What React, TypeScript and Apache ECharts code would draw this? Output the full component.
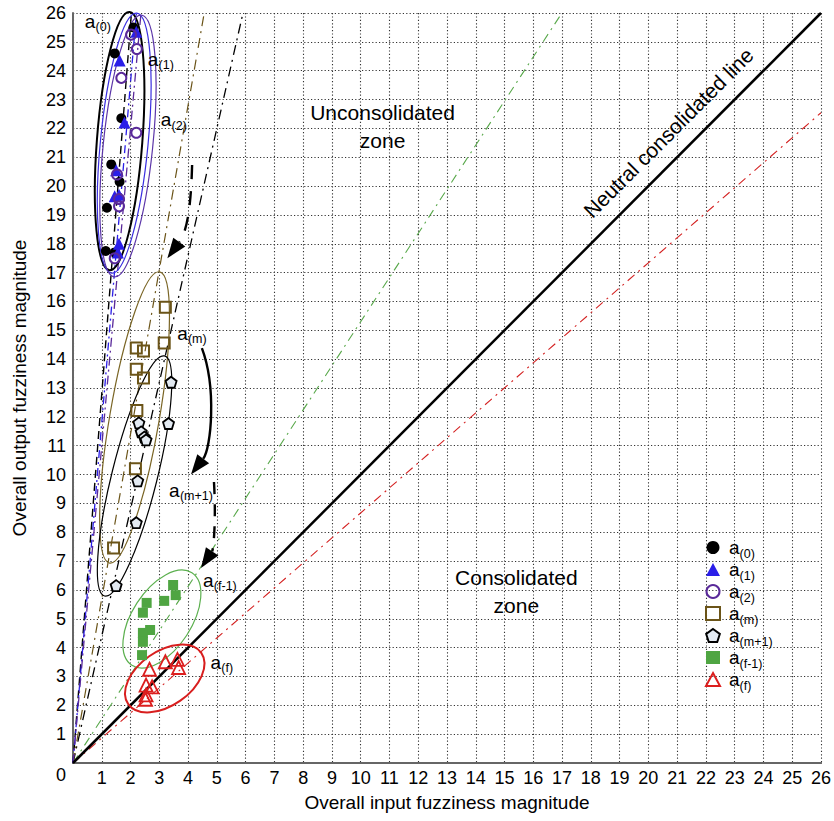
import React, { useEffect, useRef } from "react";
import * as echarts from "echarts";

const FONT = "'Liberation Sans', Arial, sans-serif";

// ---- data ----
const seriesNames = ["a(0)", "a(1)", "a(2)", "a(m)", "a(m+1)", "a(f-1)", "a(f)"];

const a0 = [[2.1, 25.5], [1.45, 24.6], [1.68, 22.35], [1.33, 20.75], [1.62, 20.15], [1.18, 19.25], [1.14, 17.75], [1.45, 17.7]];
const a1 = [[2.2, 25.35], [1.62, 24.35], [1.79, 22.2], [1.5, 20.55], [1.45, 19.65], [1.6, 19.7], [1.6, 18.0], [1.56, 17.7]];
const a2 = [[2.02, 25.25], [2.22, 24.75], [1.68, 23.75], [2.2, 21.85], [1.53, 20.4], [1.6, 19.55], [1.6, 19.3], [1.45, 17.5]];
const am = [[3.21, 15.8], [3.17, 14.56], [2.2, 14.39], [2.45, 14.28], [2.2, 13.65], [2.45, 13.35], [2.22, 12.22], [2.17, 10.2], [1.41, 7.45]];
const am1 = [[3.41, 13.2], [2.29, 11.79], [3.32, 11.77], [2.37, 11.48], [2.48, 11.3], [2.54, 11.2], [2.25, 9.78], [2.2, 8.33], [1.5, 6.15]];
const af1 = [[3.48, 6.17], [3.57, 5.82], [3.17, 5.62], [2.56, 5.55], [2.43, 5.21], [2.68, 4.61], [2.43, 4.51], [2.43, 4.2], [2.4, 3.74]];
const af = [[3.21, 3.51], [3.63, 3.59], [3.67, 3.31], [2.66, 3.25], [2.54, 2.7], [2.75, 2.64], [2.54, 2.36], [2.52, 2.21]];
const seriesData = [a0, a1, a2, am, am1, af1, af];

// reference lines through the origin (slopes)
const refSlopes = [0.867, 1.53, 4.4, 5.7, 12.8, 11.8, 11.0, 1];

// cluster ellipses: centre, semi-axes (x-units, y-units), tilt in degrees
const ellipseCenters = [[1.62, 21.56], [1.78, 21.49], [1.91, 21.39], [2.14, 11.98], [2.14, 9.95], [3.09, 4.99], [3.19, 2.93]];
const ellipseSemiAxes = [[0.79, 4.49], [0.83, 4.53], [0.86, 4.56], [0.86, 5.12], [0.79, 4.29], [1.03, 1.91], [1.55, 0.94]];
const ellipseTilts = [-4.4, -5.5, -5.9, -9.75, -14, -33, 35];

// transition arrows: start, control 1, control 2, tip
const arrowPaths = [
  [[4.14, 20.73], [4.1, 19.2], [3.95, 18.4], [3.28, 17.5]],
  [[4.48, 14.38], [5.0, 13.0], [4.8, 10.9], [4.1, 10.0]],
  [[4.9, 9.74], [4.98, 8.4], [4.88, 7.4], [4.45, 6.76]],
];

// cluster label anchors
const labelAnchors = [[0.41, 25.72], [2.6, 24.4], [3.05, 22.3], [3.62, 14.9], [3.34, 9.45], [4.52, 6.34], [4.78, 3.5]];

const zoneTexts = ["Unconsolidated\nzone", "Consolidated\nzone", "Neutral consolidated line"];
const zoneAnchors = [[10.76, 22.08], [15.41, 5.93], [20.7, 21.85]];

// ---- styles ----
const PENTAGON = "path://M0,-10 L9.51,-3.09 L5.88,8.09 L-5.88,8.09 L-9.51,-3.09 Z";
const markerStyles = [
  { symbol: "circle", size: 10, fill: "#000", border: "#000", bw: 0 },
  { symbol: "triangle", size: 12, fill: "#2a1ee8", border: "#2a1ee8", bw: 0 },
  { symbol: "circle", size: 10, fill: "rgba(255,255,255,0)", border: "#5a2a9a", bw: 2 },
  { symbol: "rect", size: 11, fill: "rgba(255,255,255,0)", border: "#6b5418", bw: 2 },
  { symbol: PENTAGON, size: 11, fill: "#e3eaf2", border: "#000", bw: 1.8 },
  { symbol: "rect", size: 10, fill: "#4fa542", border: "#4fa542", bw: 0 },
  { symbol: "triangle", size: 13, fill: "rgba(255,255,255,0)", border: "#dc1e1e", bw: 1.8 },
];
const refStyles = [
  { color: "#d42020", width: 1.1, type: [9, 5, 2, 5] },
  { color: "#58a84a", width: 1.1, type: [9, 5, 2, 5] },
  { color: "#000", width: 1.3, type: [10, 5, 2, 5] },
  { color: "#6b5418", width: 1.2, type: [10, 5, 2, 5] },
  { color: "#000", width: 1.4, type: [8, 5] },
  { color: "#2a1ee8", width: 1.3, type: [8, 4, 2, 4] },
  { color: "#5a2a9a", width: 1.3, type: [9, 4, 2, 4] },
  { color: "#000", width: 2.5, type: "solid" },
];
const ellipseStyles = [
  { color: "#000", width: 2 },
  { color: "#3a2ee0", width: 1.2 },
  { color: "#5b35a8", width: 1.2 },
  { color: "#7a6525", width: 1.2 },
  { color: "#000", width: 1.2 },
  { color: "#5cb04f", width: 1.2 },
  { color: "#d81e1e", width: 2 },
];
const arrowDashes = [[14, 12], null, [12, 10]];

const subRich = {
  m: { fontSize: 19, fontFamily: FONT, color: "#000", lineHeight: 22 },
  s: { fontSize: 12.5, fontFamily: FONT, color: "#000", lineHeight: 10, padding: [12, 0, 0, 0] },
};
const subText = (name: string) => `{m|a}{s|${name.slice(1)}}`;

export default function App() {
  const ref = useRef<HTMLDivElement>(null);
  useEffect(() => {
    if (!ref.current) return;
    const chart = echarts.init(ref.current, null, { renderer: "svg" });

    const refSeries = refSlopes.map((s, i) => ({
      type: "line",
      silent: true,
      symbol: "none",
      z: 1,
      data: [[0, 0], s >= 1 ? [26 / s, 26] : [26, 26 * s]],
      lineStyle: { color: refStyles[i].color, width: refStyles[i].width, type: refStyles[i].type as any },
    }));

    const scatterSeries = seriesNames.map((n, i) => ({
      type: "scatter",
      name: n,
      z: 5,
      symbol: markerStyles[i].symbol,
      symbolSize: markerStyles[i].size,
      data: seriesData[i],
      itemStyle: {
        color: markerStyles[i].fill,
        borderColor: markerStyles[i].border,
        borderWidth: markerStyles[i].bw,
        opacity: 1,
      },
    }));

    const ellipseSeries = {
      type: "custom",
      silent: true,
      z: 3,
      data: ellipseCenters,
      renderItem: (params: any, api: any) => {
        const i = params.dataIndex;
        const c = api.coord(ellipseCenters[i]);
        const sz = api.size(ellipseSemiAxes[i]);
        return {
          type: "ellipse",
          x: c[0],
          y: c[1],
          rotation: (ellipseTilts[i] * Math.PI) / 180,
          shape: { cx: 0, cy: 0, rx: sz[0], ry: sz[1] },
          style: { fill: "none", stroke: ellipseStyles[i].color, lineWidth: ellipseStyles[i].width },
        };
      },
    };

    const arrowSeries = {
      type: "custom",
      silent: true,
      z: 6,
      data: arrowPaths.map((p) => p[0]),
      renderItem: (params: any, api: any) => {
        const i = params.dataIndex;
        const [p1, c1, c2, tip] = arrowPaths[i].map((q) => api.coord(q));
        let dx = tip[0] - c2[0];
        let dy = tip[1] - c2[1];
        const len = Math.sqrt(dx * dx + dy * dy) || 1;
        dx /= len;
        dy /= len;
        const L = 20;
        const W = 7.5;
        const bx = tip[0] - dx * L;
        const by = tip[1] - dy * L;
        return {
          type: "group",
          children: [
            {
              type: "bezierCurve",
              shape: { x1: p1[0], y1: p1[1], cpx1: c1[0], cpy1: c1[1], cpx2: c2[0], cpy2: c2[1], x2: bx, y2: by },
              style: { fill: "none", stroke: "#000", lineWidth: 2.4, lineDash: arrowDashes[i] || undefined },
            },
            {
              type: "polygon",
              shape: { points: [[tip[0], tip[1]], [bx - dy * W, by + dx * W], [bx + dy * W, by - dx * W]] },
              style: { fill: "#000" },
            },
          ],
        };
      },
    };

    const labelSeries = {
      type: "custom",
      silent: true,
      z: 7,
      data: labelAnchors,
      renderItem: (params: any, api: any) => {
        const i = params.dataIndex;
        const c = api.coord(labelAnchors[i]);
        return {
          type: "group",
          x: c[0],
          y: c[1],
          children: [
            {
              type: "text",
              x: 0,
              y: 0,
              style: { text: "a", fontSize: 19, fontFamily: FONT, fill: "#000", align: "left", verticalAlign: "middle" },
            },
            {
              type: "text",
              x: 10.8,
              y: 6,
              style: {
                text: seriesNames[i].slice(1),
                fontSize: 12.5,
                fontFamily: FONT,
                fill: "#000",
                align: "left",
                verticalAlign: "middle",
              },
            },
          ],
        };
      },
    };

    const zoneSeries = {
      type: "custom",
      silent: true,
      z: 7,
      data: zoneAnchors,
      renderItem: (params: any, api: any) => {
        const i = params.dataIndex;
        const c = api.coord(zoneAnchors[i]);
        return {
          type: "text",
          x: c[0],
          y: c[1],
          rotation: i === 2 ? Math.PI / 4 : 0,
          style: {
            text: zoneTexts[i],
            fontSize: 21,
            lineHeight: 28,
            fontFamily: FONT,
            fill: "#000",
            align: "center",
            verticalAlign: "middle",
          },
        };
      },
    };

    const axisCommon = {
      type: "value",
      min: 0,
      max: 26,
      interval: 1,
      axisTick: { show: false },
      splitLine: { show: true, lineStyle: { color: "#333", width: 1.1, type: [1.2, 2.2] } },
      axisLine: { show: true, onZero: false, lineStyle: { color: "#666", width: 2 } },
      nameLocation: "middle",
      nameTextStyle: { fontSize: 19, color: "#000", fontFamily: FONT },
    };

    chart.setOption({
      animation: false,
      textStyle: { fontFamily: FONT },
      grid: { left: 73, right: 8, top: 13, bottom: 58, containLabel: false },
      xAxis: [
        {
          ...axisCommon,
          name: "Overall input fuzziness magnitude",
          nameGap: 30,
          axisLabel: {
            fontSize: 18,
            color: "#000",
            fontFamily: FONT,
            margin: 6,
            formatter: (v: number) => (v === 0 ? "" : String(v)),
          },
        },
        {
          type: "value",
          position: "top",
          min: 0,
          max: 26,
          interval: 1,
          axisTick: { show: false },
          axisLabel: { show: false },
          splitLine: { show: false },
          axisLine: { show: true, lineStyle: { color: "#666", width: 2 } },
        },
      ],
      yAxis: {
        ...axisCommon,
        name: "Overall output fuzziness magnitude",
        nameGap: 44,
        axisLabel: {
          fontSize: 18,
          color: "#000",
          fontFamily: FONT,
          margin: 7,
          formatter: (v: number) => (v === 0 ? "{o|0}" : String(v)),
          rich: { o: { fontSize: 18, color: "#000", fontFamily: FONT, padding: [24, 0, 0, 0] } },
        },
      },
      legend: {
        data: seriesNames,
        orient: "vertical",
        left: 700,
        top: 530,
        itemWidth: 14,
        itemHeight: 13,
        itemGap: -3,
        selectedMode: false,
        formatter: (name: string) => subText(name),
        textStyle: { fontFamily: FONT, fontSize: 19, color: "#000", rich: subRich, padding: [0, 0, 0, 4] },
      },
      series: [...refSeries, ellipseSeries, ...scatterSeries, arrowSeries, labelSeries, zoneSeries],
    });

    return () => chart.dispose();
  }, []);

  return <div ref={ref} style={{ position: "absolute", left: 0, top: 0, width: 834, height: 821 }} />;
}
